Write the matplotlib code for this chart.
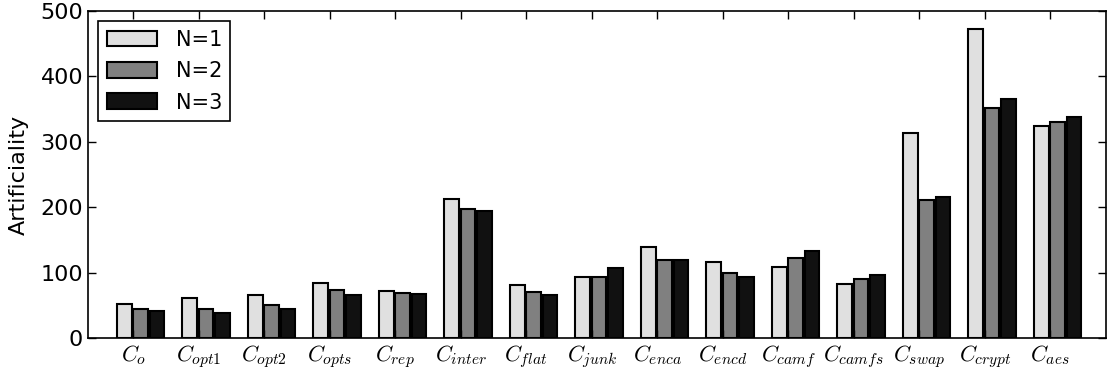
import numpy as np
import matplotlib
matplotlib.use("Agg")
import matplotlib.pyplot as plt

plt.rcParams['mathtext.fontset'] = 'cm'

# data
labels = [r'$C_{o}$', r'$C_{opt1}$', r'$C_{opt2}$', r'$C_{opts}$', r'$C_{rep}$',
          r'$C_{inter}$', r'$C_{flat}$', r'$C_{junk}$', r'$C_{enca}$', r'$C_{encd}$',
          r'$C_{camf}$', r'$C_{camfs}$', r'$C_{swap}$', r'$C_{crypt}$', r'$C_{aes}$']
n1 = [52, 61, 66, 84, 72, 212, 81, 94, 139, 117, 109, 82, 313, 472, 324]
n2 = [44, 44, 50, 73, 69, 198, 71, 94, 120, 99, 122, 90, 211, 352, 330]
n3 = [41, 38, 45, 66, 68, 195, 66, 107, 119, 93, 133, 96, 215, 366, 338]
series_names = ['N=1', 'N=2', 'N=3']
colors = ['#e0e0e0', '#808080', '#111111']

x = np.arange(len(labels))
w = 0.25

fig = plt.figure(figsize=(11.07, 3.79), dpi=100)
ax = fig.add_axes([0.0795, 0.108, 0.9195, 0.863])

for i, (vals, name) in enumerate(zip([n1, n2, n3], series_names)):
    ax.bar(x - w + i * w, vals, width=w * 0.9, align='edge', color=colors[i],
           edgecolor='black', linewidth=1.5, label=name)

ax.set_xlim(-0.69, 14.85)
ax.set_ylim(0, 500)
ax.set_yticks([0, 100, 200, 300, 400, 500])
ax.set_xticks(x)
ax.set_xticklabels(labels, fontsize=16)
ax.tick_params(axis='y', labelsize=16)
ax.tick_params(direction='in', length=6, width=1, top=True, right=True)
ax.set_ylabel('Artificiality', fontsize=16, labelpad=8)
for s in ax.spines.values():
    s.set_linewidth(1.2)

leg = ax.legend(loc='upper left', fontsize=15, fancybox=False, framealpha=1,
                edgecolor='black', handlelength=2.4, handleheight=0.8,
                handletextpad=0.9, labelspacing=0.55, borderaxespad=0.5,
                borderpad=0.4)
leg.get_frame().set_linewidth(1.2)

fig.savefig('out.png', dpi=100)
